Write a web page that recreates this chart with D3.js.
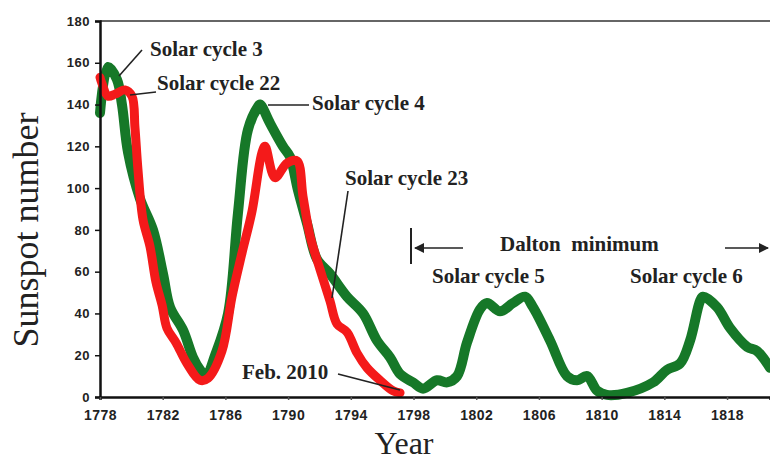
<!DOCTYPE html>
<html><head><meta charset="utf-8">
<script src="https://cdn.jsdelivr.net/npm/d3@7"></script>
<style>html,body{margin:0;padding:0;background:#fff;}svg{display:block;}</style>
</head><body>
<svg id="c" width="770" height="461"></svg>
<script>
// ---- data ----
const yTicks = [0,20,40,60,80,100,120,140,160,180];
const xTicks = [1778,1782,1786,1790,1794,1798,1802,1806,1810,1814,1818];

// Solar cycles 3-6 (green)
const greenYears = [1778.0,1778.51,1779.08,1779.4,1779.79,1780.55,1781.38,1782.02,1782.47,1783.30,1783.93,1784.38,1784.76,1785.34,1786.17,1786.80,1787.44,1788.08,1788.21,1788.85,1789.67,1790.12,1790.63,1791.21,1791.84,1792.67,1793.76,1794.78,1795.67,1796.50,1797.14,1797.97,1798.61,1799.50,1800.14,1800.78,1801.41,1802.24,1802.69,1803.52,1804.35,1805.11,1805.62,1806.71,1807.79,1808.43,1809.07,1809.71,1810.34,1811.62,1813.28,1814.17,1815.00,1815.64,1816.28,1816.47,1817.36,1818.19,1819.28,1819.91,1820.74];
const greenValues = [136,158,152,140,117,95,80,59,43,32,19,13,10,20,40,88,128,139,140,131,120,115,99,83,66,59,48,40,27,19,11,7,4,8,7,10,26,42,45,41,45,48,43,27,10,8,10,3,1,2,7,13,16,27,46,48,43,33,24,22,14];

// Solar cycles 22-23 (red), aligned on the same time axis
const redYears = [1778.0,1778.13,1778.51,1778.96,1779.59,1780.04,1780.23,1780.42,1780.74,1781.19,1781.57,1781.96,1782.27,1782.85,1783.55,1784.38,1784.89,1785.78,1786.42,1787.06,1787.70,1788.33,1788.53,1789.16,1789.93,1790.57,1790.95,1791.40,1792.04,1792.67,1793.12,1793.76,1794.40,1795.03,1795.86,1796.69,1797.14];
const redValues = [153,150,144,145,147,144,129,109,85,72,55,44,33,26,16,8,9,22,48,69,89,117,120,105,112,113,96,77,61,46,35,31,21,14,8,3,2];

const labels = ["Solar cycle 3","Solar cycle 22","Solar cycle 4","Solar cycle 23","Solar cycle 5","Solar cycle 6","Feb. 2010","Dalton  minimum"];

// ---- drawing ----
const svg = d3.select("#c");
const x = d3.scaleLinear().domain([1778, 1820.74]).range([100, 770]);
const y = d3.scaleLinear().domain([0, 180]).range([397, 21]);

const green = greenYears.map((d,i)=>({x:d, y:greenValues[i]}));
const red = redYears.map((d,i)=>({x:d, y:redValues[i]}));

const line = d3.line().x(d=>x(d.x)).y(d=>y(d.y)).curve(d3.curveCatmullRom.alpha(0.5));

svg.append("path").datum(green).attr("d", line)
  .attr("fill","none").attr("stroke","#167828").attr("stroke-width",10)
  .attr("stroke-linejoin","round").attr("stroke-linecap","round");
svg.append("path").datum(red).attr("d", line)
  .attr("fill","none").attr("stroke","#f41a1a").attr("stroke-width",9)
  .attr("stroke-linejoin","round").attr("stroke-linecap","round");

// top border
svg.append("line").attr("x1",100).attr("x2",770).attr("y1",21).attr("y2",21)
  .attr("stroke","#333").attr("stroke-width",1.5);

// axes
const yAxis = d3.axisLeft(y).tickValues(yTicks).tickSize(5).tickPadding(5).tickFormat(d3.format("d"));
const gy = svg.append("g").attr("transform","translate(100,0)").call(yAxis);
gy.select(".domain").attr("stroke","#111").attr("stroke-width",2.5);
gy.selectAll(".tick line").attr("stroke","#111").attr("stroke-width",1.5);
gy.selectAll(".tick text").attr("font-family","'Liberation Sans', Arial, sans-serif")
  .attr("font-weight","bold").attr("font-size",13).attr("fill","#222").attr("letter-spacing","0.5px");

const xAxis = d3.axisBottom(x).tickValues(xTicks).tickSize(3).tickPadding(10).tickFormat(d3.format("d"));
const gx = svg.append("g").attr("transform","translate(0,397)").call(xAxis);
gx.select(".domain").attr("stroke","#111").attr("stroke-width",2.5);
gx.selectAll(".tick line").attr("stroke","#555").attr("stroke-width",1.5);
gx.selectAll(".tick text").attr("font-family","'Liberation Sans', Arial, sans-serif")
  .attr("font-weight","bold").attr("font-size",14).attr("fill","#222").attr("letter-spacing","0.5px");

// axis titles
svg.append("text").attr("transform","translate(38,230) rotate(-90)")
  .attr("text-anchor","middle").attr("font-family","'Liberation Serif', 'Times New Roman', serif")
  .attr("font-size",36).attr("fill","#222").text("Sunspot number");
svg.append("text").attr("x",404).attr("y",454)
  .attr("text-anchor","middle").attr("font-family","'Liberation Serif', 'Times New Roman', serif")
  .attr("font-size",32).attr("fill","#222").text("Year");

// annotations
const ann = [
  {t:labels[0], x:150, y:56},
  {t:labels[1], x:157, y:90},
  {t:labels[2], x:312, y:110},
  {t:labels[3], x:345, y:185},
  {t:labels[4], x:432, y:283},
  {t:labels[5], x:630, y:283},
  {t:labels[6], x:242, y:379},
  {t:labels[7], x:500, y:251}
];
svg.selectAll("text.ann").data(ann).enter().append("text").attr("class","ann")
  .attr("x",d=>d.x).attr("y",d=>d.y)
  .attr("font-family","'Liberation Serif', 'Times New Roman', serif")
  .attr("font-weight","bold").attr("font-size",21).attr("fill","#222")
  .style("white-space","pre").attr("xml:space","preserve").text(d=>d.t);

const leaders = [
  [142,50,119,76],
  [130,95,156,92],
  [268,105,309,105],
  [348,191,332,298],
  [338,374,400,390]
];
svg.selectAll("line.lead").data(leaders).enter().append("line").attr("class","lead")
  .attr("x1",d=>d[0]).attr("y1",d=>d[1]).attr("x2",d=>d[2]).attr("y2",d=>d[3])
  .attr("stroke","#222").attr("stroke-width",1.6);

// Dalton minimum markers
const defs = svg.append("defs");
defs.append("marker").attr("id","ah").attr("viewBox","0 0 10 10").attr("refX",9).attr("refY",5)
  .attr("markerWidth",10).attr("markerHeight",10).attr("markerUnits","userSpaceOnUse").attr("orient","auto")
  .append("path").attr("d","M0,0 L10,5 L0,10 z").attr("fill","#222");
svg.append("line").attr("x1",411).attr("x2",411).attr("y1",228).attr("y2",264)
  .attr("stroke","#222").attr("stroke-width",2);
svg.append("line").attr("x1",463).attr("y1",248).attr("x2",415).attr("y2",248)
  .attr("stroke","#222").attr("stroke-width",1.5).attr("marker-end","url(#ah)");
svg.append("line").attr("x1",725).attr("y1",248).attr("x2",768).attr("y2",248)
  .attr("stroke","#222").attr("stroke-width",1.5).attr("marker-end","url(#ah)");
</script>
</body></html>
